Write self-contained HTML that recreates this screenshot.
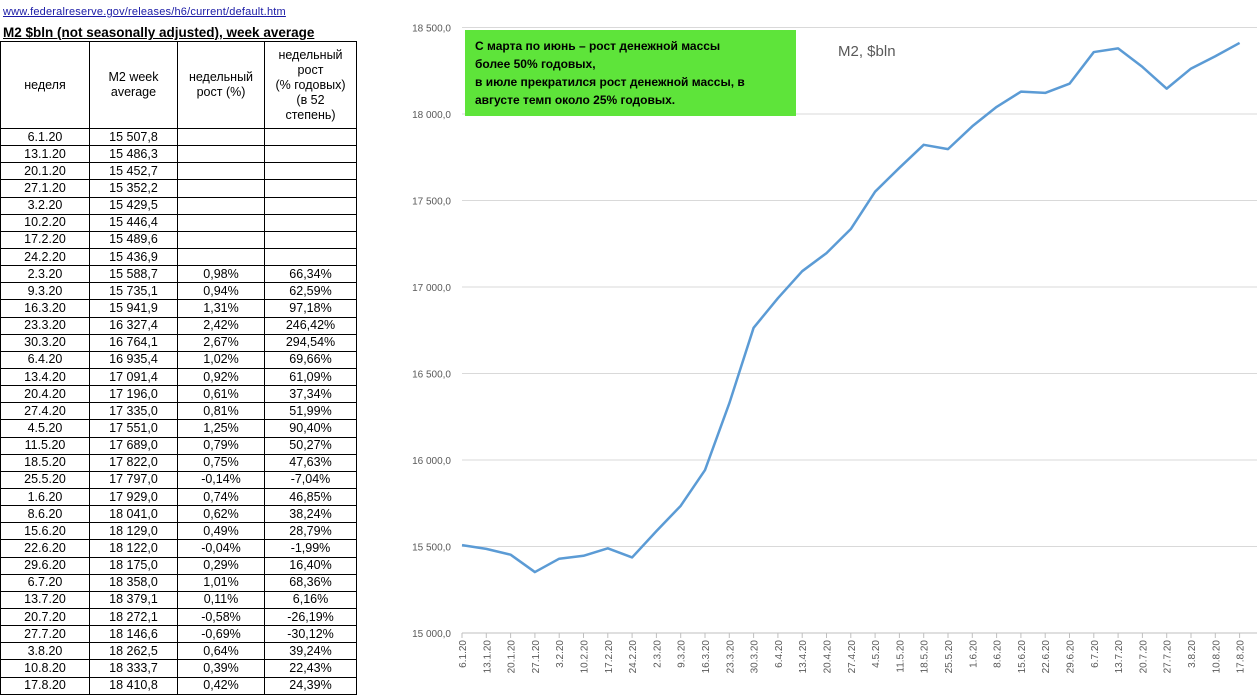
<!DOCTYPE html>
<html><head><meta charset="utf-8"><style>
body{margin:0;width:1257px;height:694px;background:#fff;overflow:hidden;position:relative;font-family:"Liberation Sans",sans-serif}
.link{position:absolute;left:3px;top:6px;font-size:11px;color:#1a1aa6;text-decoration:underline;letter-spacing:0.2px}
.ttl{position:absolute;left:3px;top:25px;font-size:13.5px;font-weight:bold;text-decoration:underline;color:#000}
table{position:absolute;left:0;top:41px;border-collapse:collapse;font-size:12.5px;color:#000}
td{border:1px solid #000;text-align:center;padding:0;height:16.15px;line-height:15px}
thead td{height:86px;line-height:15px;font-size:12.5px}
</style></head><body>
<div class="link">www.federalreserve.gov/releases/h6/current/default.htm</div>
<div class="ttl">M2 $bln (not seasonally adjusted), week average</div>
<table>
<colgroup><col style="width:89px"><col style="width:88px"><col style="width:87px"><col style="width:92px"></colgroup>
<thead><tr><td>неделя</td><td>M2 week<br>average</td><td>недельный<br>рост (%)</td><td>недельный<br>рост<br>(% годовых)<br>(в 52<br>степень)</td></tr></thead>
<tbody>
<tr><td>6.1.20</td><td>15 507,8</td><td></td><td></td></tr>
<tr><td>13.1.20</td><td>15 486,3</td><td></td><td></td></tr>
<tr><td>20.1.20</td><td>15 452,7</td><td></td><td></td></tr>
<tr><td>27.1.20</td><td>15 352,2</td><td></td><td></td></tr>
<tr><td>3.2.20</td><td>15 429,5</td><td></td><td></td></tr>
<tr><td>10.2.20</td><td>15 446,4</td><td></td><td></td></tr>
<tr><td>17.2.20</td><td>15 489,6</td><td></td><td></td></tr>
<tr><td>24.2.20</td><td>15 436,9</td><td></td><td></td></tr>
<tr><td>2.3.20</td><td>15 588,7</td><td>0,98%</td><td>66,34%</td></tr>
<tr><td>9.3.20</td><td>15 735,1</td><td>0,94%</td><td>62,59%</td></tr>
<tr><td>16.3.20</td><td>15 941,9</td><td>1,31%</td><td>97,18%</td></tr>
<tr><td>23.3.20</td><td>16 327,4</td><td>2,42%</td><td>246,42%</td></tr>
<tr><td>30.3.20</td><td>16 764,1</td><td>2,67%</td><td>294,54%</td></tr>
<tr><td>6.4.20</td><td>16 935,4</td><td>1,02%</td><td>69,66%</td></tr>
<tr><td>13.4.20</td><td>17 091,4</td><td>0,92%</td><td>61,09%</td></tr>
<tr><td>20.4.20</td><td>17 196,0</td><td>0,61%</td><td>37,34%</td></tr>
<tr><td>27.4.20</td><td>17 335,0</td><td>0,81%</td><td>51,99%</td></tr>
<tr><td>4.5.20</td><td>17 551,0</td><td>1,25%</td><td>90,40%</td></tr>
<tr><td>11.5.20</td><td>17 689,0</td><td>0,79%</td><td>50,27%</td></tr>
<tr><td>18.5.20</td><td>17 822,0</td><td>0,75%</td><td>47,63%</td></tr>
<tr><td>25.5.20</td><td>17 797,0</td><td>-0,14%</td><td>-7,04%</td></tr>
<tr><td>1.6.20</td><td>17 929,0</td><td>0,74%</td><td>46,85%</td></tr>
<tr><td>8.6.20</td><td>18 041,0</td><td>0,62%</td><td>38,24%</td></tr>
<tr><td>15.6.20</td><td>18 129,0</td><td>0,49%</td><td>28,79%</td></tr>
<tr><td>22.6.20</td><td>18 122,0</td><td>-0,04%</td><td>-1,99%</td></tr>
<tr><td>29.6.20</td><td>18 175,0</td><td>0,29%</td><td>16,40%</td></tr>
<tr><td>6.7.20</td><td>18 358,0</td><td>1,01%</td><td>68,36%</td></tr>
<tr><td>13.7.20</td><td>18 379,1</td><td>0,11%</td><td>6,16%</td></tr>
<tr><td>20.7.20</td><td>18 272,1</td><td>-0,58%</td><td>-26,19%</td></tr>
<tr><td>27.7.20</td><td>18 146,6</td><td>-0,69%</td><td>-30,12%</td></tr>
<tr><td>3.8.20</td><td>18 262,5</td><td>0,64%</td><td>39,24%</td></tr>
<tr><td>10.8.20</td><td>18 333,7</td><td>0,39%</td><td>22,43%</td></tr>
<tr><td>17.8.20</td><td>18 410,8</td><td>0,42%</td><td>24,39%</td></tr>
</tbody></table>

<svg style="position:absolute;left:0;top:0" width="1257" height="694" font-family="Liberation Sans, sans-serif">
<g id="grid" stroke="#d9d9d9" stroke-width="1"></g>
<g id="yl" font-size="10" fill="#595959" text-anchor="end"></g>
<g id="xl" font-size="10" fill="#595959"></g>
<polyline id="ln" fill="none" stroke="#5b9bd5" stroke-width="2.5" stroke-linejoin="round"/>
<rect x="465" y="30" width="331" height="86" fill="#5ee43a"/>
<g font-size="12" font-weight="bold" fill="#000">
<text x="475" y="50">С марта по июнь – рост денежной массы</text>
<text x="475" y="68">более 50% годовых,</text>
<text x="475" y="86">в июле прекратился рост денежной массы, в</text>
<text x="475" y="104">августе темп около 25% годовых.</text>
</g>
<text x="838" y="56" font-size="15" fill="#595959">M2, $bln</text>
</svg>
<script>
var v=[15507.8,15486.3,15452.7,15352.2,15429.5,15446.4,15489.6,15436.9,15588.7,15735.1,15941.9,16327.4,16764.1,16935.4,17091.4,17196,17335,17551,17689,17822,17797,17929,18041,18129,18122,18175,18358,18379.1,18272.1,18146.6,18262.5,18333.7,18410.8];
var d=["6.1.20","13.1.20","20.1.20","27.1.20","3.2.20","10.2.20","17.2.20","24.2.20","2.3.20","9.3.20","16.3.20","23.3.20","30.3.20","6.4.20","13.4.20","20.4.20","27.4.20","4.5.20","11.5.20","18.5.20","25.5.20","1.6.20","8.6.20","15.6.20","22.6.20","29.6.20","6.7.20","13.7.20","20.7.20","27.7.20","3.8.20","10.8.20","17.8.20"];
var ns="http://www.w3.org/2000/svg";
function Y(x){return 633-(x-15000)*86.5/500;}
function X(i){return 462+i*24.3;}
var g=document.getElementById('grid'),yl=document.getElementById('yl'),xl=document.getElementById('xl');
for(var k=0;k<=7;k++){var val=15000+k*500,y=Y(val);
var l=document.createElementNS(ns,'line');l.setAttribute('x1',462);l.setAttribute('x2',1257);l.setAttribute('y1',y);l.setAttribute('y2',y);if(k==0)l.setAttribute('stroke','#bfbfbf');g.appendChild(l);
var t=document.createElementNS(ns,'text');t.setAttribute('x',451);t.setAttribute('y',y+4);t.textContent=(val+'').replace(/(\d\d)(\d\d\d)/,'$1 $2')+',0';yl.appendChild(t);}
var pts=[];
for(var i=0;i<v.length;i++){pts.push(X(i)+','+Y(v[i]));
var tk=document.createElementNS(ns,'line');tk.setAttribute('x1',X(i));tk.setAttribute('x2',X(i));tk.setAttribute('y1',633);tk.setAttribute('y2',638);tk.setAttribute('stroke','#bfbfbf');g.appendChild(tk);
var t=document.createElementNS(ns,'text');t.setAttribute('transform','translate('+(X(i)+4)+',640) rotate(-90)');t.setAttribute('text-anchor','end');t.textContent=d[i];xl.appendChild(t);}
document.getElementById('ln').setAttribute('points',pts.join(' '));
</script>
</body></html>
